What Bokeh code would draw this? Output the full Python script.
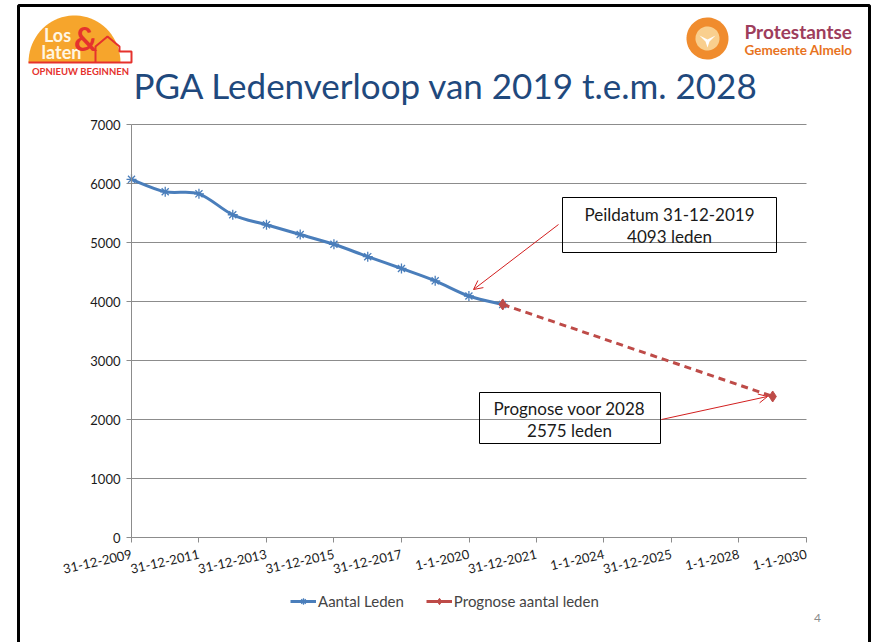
import numpy as np
import pandas as pd
from bokeh.plotting import figure
from bokeh.models import (ColumnDataSource, FixedTicker, Legend, LegendItem, Label,
                          BoxAnnotation, PolyAnnotation, Arrow, OpenHead)
from bokeh.embed import file_html
from bokeh.resources import INLINE

# ---------------- data ----------------
dates_leden = ["2009-12-31", "2010-12-31", "2011-12-31", "2012-12-31", "2013-12-31",
               "2014-12-31", "2015-12-31", "2016-12-31", "2017-12-31", "2018-12-31",
               "2019-12-31", "2020-12-31"]
aantal_leden = [6070, 5860, 5825, 5470, 5300, 5135, 4970, 4760, 4560, 4350, 4093, 3950]

dates_prognose = ["2020-12-31", "2028-12-31"]
prognose_leden = [3950, 2390]

tick_dates = ["2009-12-31", "2011-12-31", "2013-12-31", "2015-12-31", "2017-12-31",
              "2020-01-01", "2021-12-31", "2024-01-01", "2025-12-31", "2028-01-01",
              "2030-01-01"]
tick_labels = ["31-12-2009", "31-12-2011", "31-12-2013", "31-12-2015", "31-12-2017",
               "1-1-2020", "31-12-2021", "1-1-2024", "31-12-2025", "1-1-2028",
               "1-1-2030"]
y_ticks = [0, 1000, 2000, 3000, 4000, 5000, 6000, 7000]

title_text = "PGA Ledenverloop van 2019 t.e.m. 2028"
note1 = ["Peildatum 31-12-2019", "4093 leden"]
note2 = ["Prognose voor 2028", "2575 leden"]


def ms(d):
    return float(pd.Timestamp(d).value // 10**6)


BLUE = "#4A7EBB"
RED = "#BE4B48"
GRID = "#8C8C8C"
FONT = "Lato"

X0, X1 = ms("2009-12-31"), ms("2030-01-01")
Y0, Y1 = 0, 7000

# canvas and plot-area pixel layout
W, H = 871, 642
PL, PR, PT, PB = 131, 806, 124, 537
SX = (X1 - X0) / (PR - PL)
SY = (Y1 - Y0) / (PB - PT)

p = figure(width=W, height=H, x_axis_type="datetime", output_backend="svg",
           toolbar_location=None,
           x_range=(X0 - PL * SX, X1 + (W - PR) * SX),
           y_range=(Y0 - (H - PB) * SY, Y1 + PT * SY),
           min_border=0)
p.outline_line_color = None
p.background_fill_color = "white"
p.border_fill_color = "white"


def dx(px):
    return X0 + (px - PL) * SX


def dy(py):
    return Y0 + (PB - py) * SY


# axes placed at the data origin
p.xgrid.grid_line_color = None
p.ygrid.grid_line_color = None
p.yaxis.fixed_location = X0
p.xaxis.fixed_location = Y0
p.yaxis.bounds = (Y0, Y1)
p.xaxis.bounds = (X0, X1)
p.yaxis.ticker = FixedTicker(ticks=y_ticks, minor_ticks=[])
p.yaxis.formatter.use_scientific = False
tick_ms = [ms(d) for d in tick_dates]
p.xaxis.ticker = FixedTicker(ticks=tick_ms, minor_ticks=[])
p.xaxis.major_label_overrides = {t: lab for t, lab in zip(tick_ms, tick_labels)}
p.xaxis.major_label_orientation = 0.22
for ax in (p.xaxis, p.yaxis):
    ax.axis_line_color = GRID
    ax.major_tick_line_color = GRID
    ax.minor_tick_line_color = None
    ax.major_tick_out = 5
    ax.major_tick_in = 0
    ax.major_label_text_font = FONT
    ax.major_label_text_font_size = "13px"
    ax.major_label_text_color = "#1a1a1a"
p.yaxis.major_label_standoff = 6
p.xaxis.major_label_standoff = 11

# horizontal gridlines at the y ticks, across the plot area
p.segment(x0=[X0] * len(y_ticks), x1=[X1] * len(y_ticks), y0=y_ticks, y1=y_ticks,
          line_color=GRID, line_width=1)

# series: smoothed line (Bezier through the data points, like a smoothed spreadsheet line)
xs = np.array([ms(d) for d in dates_leden])
ys = np.array(aantal_leden, dtype=float)
xp = np.concatenate([[xs[0]], xs, [xs[-1]]])
yp = np.concatenate([[ys[0]], ys, [ys[-1]]])
n = len(xs)
bz = dict(x0=xs[:-1], y0=ys[:-1], x1=xs[1:], y1=ys[1:],
          cx0=xs[:-1] + (xp[2:n + 1] - xp[0:n - 1]) / 6,
          cy0=ys[:-1] + (yp[2:n + 1] - yp[0:n - 1]) / 6,
          cx1=xs[1:] - (xp[3:n + 2] - xp[1:n]) / 6,
          cy1=ys[1:] - (yp[3:n + 2] - yp[1:n]) / 6)
p.bezier(source=ColumnDataSource(bz), x0="x0", y0="y0", x1="x1", y1="y1",
         cx0="cx0", cy0="cy0", cx1="cx1", cy1="cy1", line_color=BLUE, line_width=3)

src1 = ColumnDataSource(dict(x=[pd.Timestamp(d) for d in dates_leden], y=aantal_leden))
src2 = ColumnDataSource(dict(x=[pd.Timestamp(d) for d in dates_prognose], y=prognose_leden))

l1 = p.line("x", "y", source=src1, line_color=BLUE, line_width=3, visible=False)
m1 = p.scatter("x", "y", source=src1, marker="asterisk", size=10, line_color=BLUE, line_width=1.3)
l2 = p.line("x", "y", source=src2, line_color=RED, line_width=3, line_dash="7 5")
m2 = p.scatter("x", "y", source=src2, marker="diamond", size=11, fill_color=RED, line_color=RED)

# solid red line used only as legend key
l2_key = p.line("x", "y", source=src2, line_color=RED, line_width=3, visible=False)

legend = Legend(items=[LegendItem(label="Aantal Leden", renderers=[l1, m1]),
                       LegendItem(label="Prognose aantal leden", renderers=[l2_key, m2])],
                orientation="horizontal", location=(290, 32),
                label_text_font=FONT, label_text_font_size="15px",
                glyph_width=26, glyph_height=16, label_standoff=2, spacing=22,
                padding=0, margin=0, border_line_color=None, background_fill_alpha=0)
p.add_layout(legend)

# annotation boxes
for l, r, t, b in [(562, 776, 197, 252), (479, 660, 392, 443)]:
    p.add_layout(BoxAnnotation(left=dx(l), right=dx(r), top=dy(t), bottom=dy(b),
                               fill_alpha=0, line_color="black", line_alpha=1, line_width=1))
for txt, (cx, cy) in zip(note1 + note2, [(669, 214), (669, 236), (569, 408), (569, 430)]):
    p.add_layout(Label(x=dx(cx), y=dy(cy), text=txt, text_align="center",
                       text_baseline="middle", text_font=FONT, text_font_size="17px",
                       text_color="#1a1a1a"))
p.add_layout(Arrow(end=OpenHead(size=9, line_color="#D21F1F", line_width=1),
                   x_start=dx(558), y_start=dy(224), x_end=dx(473), y_end=dy(289),
                   line_color="#D21F1F", line_width=1))
p.add_layout(Arrow(end=OpenHead(size=9, line_color="#D21F1F", line_width=1),
                   x_start=dx(661), y_start=dy(419), x_end=dx(767), y_end=dy(396),
                   line_color="#D21F1F", line_width=1))

# title
p.add_layout(Label(x=dx(133), y=dy(84), text=title_text, text_align="left",
                   text_baseline="alphabetic", text_font=FONT, text_font_size="35px",
                   text_color="#1F497D"))

# slide frame
p.add_layout(PolyAnnotation(xs=[dx(18), dx(18), dx(869), dx(869)],
                            ys=[dy(700), dy(5), dy(5), dy(700)],
                            fill_alpha=0, line_color="black", line_alpha=1, line_width=3))

# left logo (sun + house)
ang = np.linspace(0, np.pi, 40)
p.add_layout(PolyAnnotation(xs=[dx(74 + 46 * np.cos(a)) for a in ang],
                            ys=[dy(62 - 47 * np.sin(a)) for a in ang],
                            fill_color="#F6A52C", fill_alpha=1, line_color=None))
hx = [28, 95, 95, 107, 119, 119, 131, 131]
hy = [62, 62, 46, 36, 46, 51, 51, 62]
p.add_layout(PolyAnnotation(xs=[dx(v) for v in hx], ys=[dy(v) for v in hy],
                            fill_alpha=0, line_color="#E5322D", line_alpha=1, line_width=2))
p.add_layout(Label(x=dx(57), y=dy(34), text="Los", text_align="center", text_baseline="middle",
                   text_font=FONT, text_font_size="18px", text_font_style="bold", text_color="#FFF6E3"))
p.add_layout(Label(x=dx(61), y=dy(51), text="laten", text_align="center", text_baseline="middle",
                   text_font=FONT, text_font_size="18px", text_font_style="bold", text_color="#FFF6E3"))
p.add_layout(Label(x=dx(85), y=dy(38), text="&", text_align="center", text_baseline="middle",
                   text_font=FONT, text_font_size="32px", text_font_style="bold", text_color="#E5322D"))
p.add_layout(Label(x=dx(80), y=dy(71), text="OPNIEUW BEGINNEN", text_align="center",
                   text_baseline="middle", text_font=FONT, text_font_size="9.5px",
                   text_font_style="bold", text_color="#E5322D"))

# right logo
ang2 = np.linspace(0, 2 * np.pi, 60)
p.add_layout(PolyAnnotation(xs=[dx(707 + 21 * np.cos(a)) for a in ang2],
                            ys=[dy(38 + 21 * np.sin(a)) for a in ang2],
                            fill_color="#F08C2E", fill_alpha=1, line_color=None))
p.add_layout(PolyAnnotation(xs=[dx(707 + 12 * np.cos(a)) for a in ang2],
                            ys=[dy(38 + 12 * np.sin(a)) for a in ang2],
                            fill_color="#F9CF8E", fill_alpha=1, line_color=None))
p.add_layout(PolyAnnotation(xs=[dx(v) for v in [699, 707, 715, 709, 707, 705]],
                            ys=[dy(v) for v in [35, 39, 35, 41, 47, 41]],
                            fill_color="white", fill_alpha=1, line_color=None))
p.add_layout(Label(x=dx(744), y=dy(31), text="Protestantse", text_align="left",
                   text_baseline="middle", text_font=FONT, text_font_size="19px",
                   text_font_style="bold", text_color="#9E3D5C"))
p.add_layout(Label(x=dx(744), y=dy(49), text="Gemeente Almelo", text_align="left",
                   text_baseline="middle", text_font=FONT, text_font_size="13.5px",
                   text_font_style="bold", text_color="#E8731E"))

# page number
p.add_layout(Label(x=dx(817), y=dy(617), text="4", text_align="center", text_baseline="middle",
                   text_font=FONT, text_font_size="12px", text_color="#8C8C8C"))

open("out.html", "w").write(file_html(p, INLINE))
